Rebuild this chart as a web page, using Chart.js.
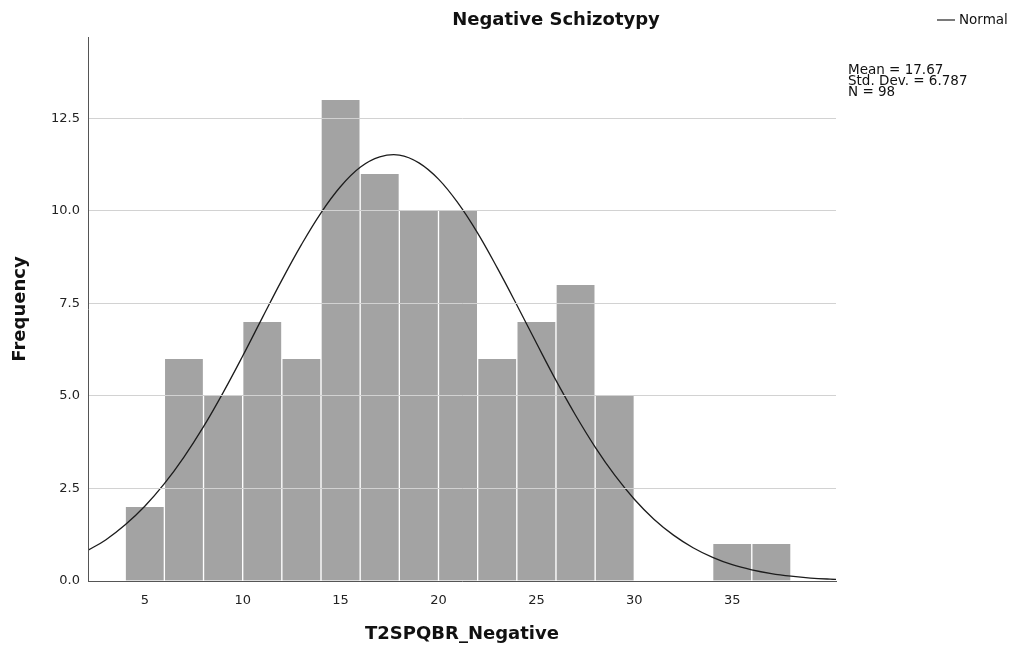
<!DOCTYPE html>
<html>
<head>
<meta charset="utf-8">
<script src="https://cdn.jsdelivr.net/npm/chart.js@4/dist/chart.umd.min.js"></script>
<style>
  html, body { margin: 0; padding: 0; background: #fff; }
  #wrap { width: 1014px; height: 654px; }
</style>
</head>
<body>
<div id="wrap"><canvas id="histo" width="1014" height="654"></canvas></div>
<script>
// Histogramme T2SPQBR_Negative (bins de largeur 2)
const binCenters = [5, 7, 9, 11, 13, 15, 17, 19, 21, 23, 25, 27, 29, 31, 33, 35, 37];
const binCounts  = [2, 6, 5, 7, 6, 13, 11, 10, 10, 6, 7, 8, 5, 0, 0, 1, 1];

// Courbe normale
const curveX = [2, 3, 4, 5, 6, 7, 8, 9, 10, 11, 12, 13, 14, 15, 16, 17, 18, 19, 20, 21,
                22, 23, 24, 25, 26, 27, 28, 29, 30, 31, 32, 33, 34, 35, 36, 37, 38, 39, 40, 41];
const curveY = [0.80, 1.11, 1.52, 2.02, 2.63, 3.35, 4.17, 5.09, 6.08, 7.11, 8.13, 9.09, 9.95, 10.66,
                11.18, 11.46, 11.51, 11.30, 10.86, 10.21, 9.40, 8.46, 7.46, 6.43, 5.42, 4.48, 3.62,
                2.86, 2.21, 1.67, 1.24, 0.90, 0.64, 0.44, 0.30, 0.20, 0.13, 0.08, 0.05, 0.03];

const xTicks = [5, 10, 15, 20, 25, 30, 35];
const yTicks = [0, 2.5, 5, 7.5, 10, 12.5];

const chartTitle = 'Negative Schizotypy';
const xTitle = 'T2SPQBR_Negative';
const yTitle = 'Frequency';
const legendLabel = 'Normal';
const statsLines = ['Mean = 17.67', 'Std. Dev. = 6.787', 'N = 98'];

const FONT = '"DejaVu Sans", sans-serif';

// Textes hors zone du graphique (titre, légende, stats, titres d'axes)
const annotations = {
  id: 'annotations',
  afterDraw(chart) {
    const ctx = chart.ctx;
    const area = chart.chartArea;
    ctx.save();
    ctx.fillStyle = '#111';
    ctx.textBaseline = 'middle';

    ctx.font = 'bold 18px ' + FONT;
    ctx.textAlign = 'center';
    ctx.fillText(chartTitle, 556, 20);

    ctx.fillText(xTitle, (area.left + area.right) / 2, 634);

    ctx.save();
    ctx.translate(20, (area.top + area.bottom) / 2);
    ctx.rotate(-Math.PI / 2);
    ctx.fillText(yTitle, 0, 0);
    ctx.restore();

    // légende
    ctx.strokeStyle = '#222';
    ctx.lineWidth = 1.2;
    ctx.beginPath();
    ctx.moveTo(937, 20);
    ctx.lineTo(955, 20);
    ctx.stroke();
    ctx.font = '13.5px ' + FONT;
    ctx.textAlign = 'left';
    ctx.fillText(legendLabel, 959, 20);

    // statistiques
    statsLines.forEach((s, i) => ctx.fillText(s, 848, 70 + i * 11));
    ctx.restore();
  }
};

const ctx = document.getElementById('histo').getContext('2d');
new Chart(ctx, {
  data: {
    datasets: [
      {
        type: 'line',
        label: legendLabel,
        data: curveX.map((x, i) => ({ x: x, y: curveY[i] })),
        borderColor: '#1c1c1c',
        borderWidth: 1.3,
        pointRadius: 0,
        tension: 0.4,
        fill: false,
        order: 0
      },
      {
        type: 'bar',
        label: 'Frequency',
        data: binCenters.map((x, i) => ({ x: x, y: binCounts[i] })),
        backgroundColor: '#a3a3a3',
        borderColor: '#ffffff',
        borderWidth: { left: 1, right: 1, top: 0, bottom: 0 },
        borderSkipped: false,
        barPercentage: 1,
        categoryPercentage: 1,
        order: 1
      }
    ]
  },
  options: {
    responsive: false,
    animation: false,
    layout: { padding: { top: 37, right: 178, left: 0, bottom: 0 } },
    plugins: {
      legend: { display: false },
      title: { display: false },
      tooltip: { enabled: false }
    },
    scales: {
      x: {
        type: 'linear',
        offset: false,
        min: 2.1,
        max: 40.3,
        afterBuildTicks: s => { s.ticks = xTicks.map(v => ({ value: v })); },
        afterFit: s => { s.height = 73; },
        grid: { display: false, drawTicks: false, offset: false },
        border: { display: true, color: '#555', width: 1, z: 2 },
        ticks: { color: '#222', font: { family: FONT, size: 13 }, padding: 12, maxRotation: 0 }
      },
      y: {
        type: 'linear',
        min: 0,
        max: 14.7,
        afterBuildTicks: s => { s.ticks = yTicks.map(v => ({ value: v })); },
        afterFit: s => { s.width = 88; },
        grid: { color: '#d2d2d2', lineWidth: 1, drawTicks: false, z: 1 },
        border: { display: true, color: '#555', width: 1, z: 2 },
        ticks: {
          color: '#222',
          font: { family: FONT, size: 13 },
          padding: 8,
          callback: v => v.toFixed(1)
        }
      }
    }
  },
  plugins: [annotations]
});
</script>
</body>
</html>
